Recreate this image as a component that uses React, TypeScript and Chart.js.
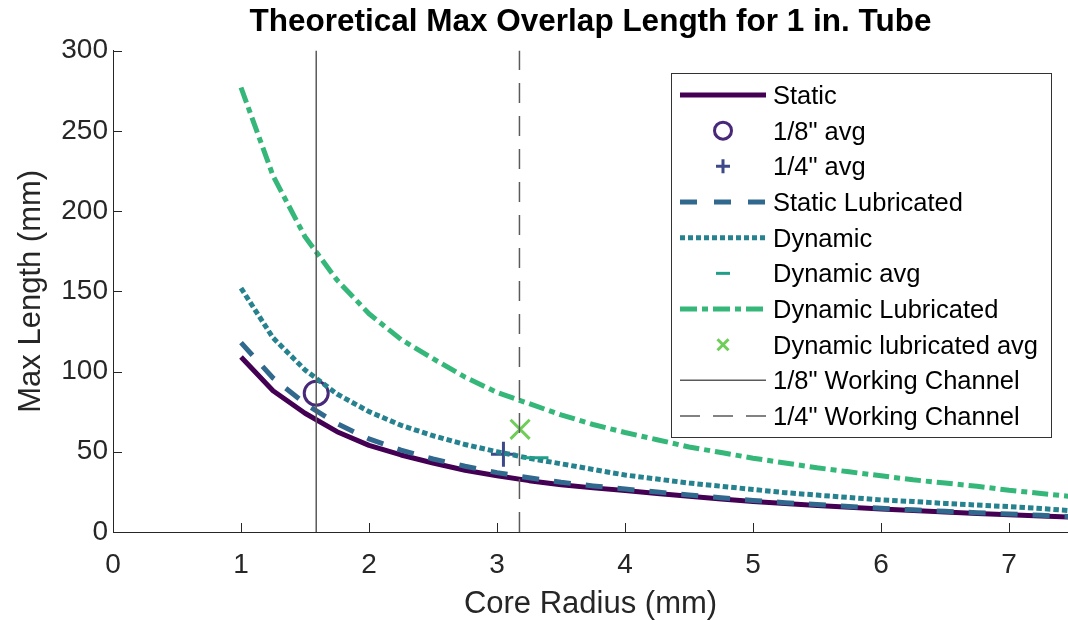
import React, { useEffect, useRef } from 'react';
import { Chart, registerables } from 'chart.js';

Chart.register(...registerables);

const FONT = "'Liberation Sans', Arial, Helvetica, sans-serif";

const chartTitle = 'Theoretical Max Overlap Length for 1 in. Tube';
const xAxisTitle = 'Core Radius (mm)';
const yAxisTitle = 'Max Length (mm)';

const radii = [1, 1.25, 1.5, 1.75, 2, 2.25, 2.5, 2.75, 3, 3.25, 3.5, 3.75, 4, 4.25, 4.5, 4.75, 5, 5.25, 5.5, 5.75, 6, 6.25, 6.5, 6.75, 7, 7.25, 7.5];
const staticLen = [109, 88, 74, 62.5, 54, 48, 43, 38.5, 35, 32, 29.5, 27.5, 25.8, 24, 22.3, 20.6, 19, 17.7, 16.5, 15.4, 14.3, 13.4, 12.5, 11.6, 10.8, 10, 9.2];
const staticLubLen = [118, 96, 80, 67.5, 58, 51, 45.5, 41, 37, 33.8, 31, 28.7, 26.8, 24.9, 23.1, 21.4, 19.7, 18.3, 17.1, 15.9, 14.8, 13.8, 12.9, 12, 11.2, 10.4, 9.6];
const dynamicLen = [152, 121, 101, 86, 75, 66.5, 60, 54.5, 50, 46, 42.5, 39, 35.5, 33, 30.5, 28.5, 26.5, 24.5, 23, 21.5, 20, 19, 17.8, 16.8, 15.8, 14.6, 13.2];
const dynamicLubLen = [277, 222, 184, 157, 136, 120, 108, 96.5, 87, 80, 73, 67, 62, 57.5, 53, 49.5, 46, 43, 40, 37.5, 35, 32.5, 30.5, 28.5, 26, 24, 22];

const avgEighthX = [1.5875];
const avgEighthY = [86.5];
const avgQuarterX = [3.05];
const avgQuarterY = [48.5];
const dynamicAvgX = [3.3];
const dynamicAvgY = [46.2];
const dynamicLubAvgX = [3.18];
const dynamicLubAvgY = [64];

const channelEighthX = 1.5875;
const channelQuarterX = 3.175;
const yRange = [0, 300];

const xMin = 0;
const xMax = 7.46;
const xStep = 1;
const yStep = 50;

const labels = [
  'Static',
  '1/8" avg',
  '1/4" avg',
  'Static Lubricated',
  'Dynamic',
  'Dynamic avg',
  'Dynamic Lubricated',
  'Dynamic lubricated avg',
  '1/8" Working Channel',
  '1/4" Working Channel',
];

const colors = ['#440154', '#482878', '#3e4989', '#31688e', '#26828e', '#1f9e89', '#35b779', '#6ece58', '#5a5a5a', '#5a5a5a'];

const pts = (xs: number[], ys: number[]) => xs.map((x, i) => ({ x, y: ys[i] }));

const inwardTicks = {
  id: 'inwardTicks',
  afterDraw(chart: any) {
    const { ctx, chartArea, scales } = chart;
    ctx.save();
    ctx.strokeStyle = '#262626';
    ctx.lineWidth = 1;
    ctx.setLineDash([]);
    scales.x.ticks.forEach((t: any) => {
      const px = Math.round(scales.x.getPixelForValue(t.value)) + 0.5;
      ctx.beginPath();
      ctx.moveTo(px, chartArea.bottom);
      ctx.lineTo(px, chartArea.bottom - 9);
      ctx.stroke();
    });
    scales.y.ticks.forEach((t: any) => {
      const py = Math.round(scales.y.getPixelForValue(t.value)) + 0.5;
      ctx.beginPath();
      ctx.moveTo(chartArea.left, py);
      ctx.lineTo(chartArea.left + 9, py);
      ctx.stroke();
    });
    ctx.restore();
  },
};

function drawMarker(ctx: CanvasRenderingContext2D, style: string, x: number, y: number, r: number) {
  ctx.beginPath();
  if (style === 'circle') {
    ctx.arc(x, y, r, 0, Math.PI * 2);
  } else if (style === 'cross') {
    ctx.moveTo(x - r, y);
    ctx.lineTo(x + r, y);
    ctx.moveTo(x, y - r);
    ctx.lineTo(x, y + r);
  } else if (style === 'crossRot') {
    ctx.moveTo(x - r, y - r);
    ctx.lineTo(x + r, y + r);
    ctx.moveTo(x - r, y + r);
    ctx.lineTo(x + r, y - r);
  } else if (style === 'line') {
    ctx.moveTo(x - r, y);
    ctx.lineTo(x + r, y);
  }
  ctx.stroke();
}

const boxLegend = {
  id: 'boxLegend',
  afterDraw(chart: any) {
    const { ctx } = chart;
    const left = 671;
    const top = 73;
    const right = 1051;
    const bottom = 437;
    ctx.save();
    ctx.fillStyle = '#ffffff';
    ctx.fillRect(left, top, right - left, bottom - top);
    ctx.strokeStyle = '#333333';
    ctx.lineWidth = 1;
    ctx.setLineDash([]);
    ctx.strokeRect(left + 0.5, top + 0.5, right - left, bottom - top);
    const legendMarkerSize: Record<string, number> = { circle: 8.5, cross: 7, line: 7, crossRot: 5.5 };
    chart.data.datasets.forEach((ds: any, i: number) => {
      const y = 95 + i * 35.67;
      ctx.strokeStyle = ds.borderColor;
      if (ds.showLine === false) {
        ctx.lineWidth = 3;
        ctx.setLineDash([]);
        drawMarker(ctx, ds.pointStyle, 723, y, legendMarkerSize[ds.pointStyle]);
      } else {
        ctx.lineWidth = ds.borderWidth;
        ctx.setLineDash(ds.legendDash || ds.borderDash || []);
        ctx.lineCap = 'butt';
        ctx.beginPath();
        ctx.moveTo(680, y);
        ctx.lineTo(766, y);
        ctx.stroke();
      }
      ctx.setLineDash([]);
      ctx.fillStyle = '#000000';
      ctx.font = `25.5px ${FONT}`;
      ctx.textAlign = 'left';
      ctx.textBaseline = 'middle';
      ctx.fillText(ds.label, 773, y + 2);
    });
    ctx.restore();
  },
};

export default function App() {
  const canvasRef = useRef<HTMLCanvasElement | null>(null);

  useEffect(() => {
    document.body.style.margin = '0';
    const canvas = canvasRef.current;
    if (!canvas) return;

    const lineDs = (i: number, ys: number[], dash: number[], legendDash?: number[]) => ({
      type: 'line',
      label: labels[i],
      data: pts(radii, ys),
      borderColor: colors[i],
      backgroundColor: colors[i],
      borderWidth: 5,
      borderDash: dash,
      legendDash,
      borderCapStyle: 'butt',
      borderJoinStyle: 'round',
      pointRadius: 0,
      tension: 0,
      fill: false,
      order: 20 - i,
    });
    const markerDs = (i: number, xs: number[], ys: number[], style: string, r: number) => ({
      type: 'line',
      label: labels[i],
      data: pts(xs, ys),
      showLine: false,
      borderColor: colors[i],
      backgroundColor: 'rgba(0,0,0,0)',
      pointStyle: style,
      pointRadius: r,
      pointBorderWidth: 3,
      pointBorderColor: colors[i],
      pointBackgroundColor: 'rgba(0,0,0,0)',
      order: 20 - i,
    });
    const vlineDs = (i: number, x: number, dash: number[]) => ({
      type: 'line',
      label: labels[i],
      data: [
        { x, y: yRange[0] },
        { x, y: yRange[1] },
      ],
      borderColor: colors[i],
      borderWidth: 1.5,
      borderDash: dash,
      pointRadius: 0,
      fill: false,
      order: 20 - i,
    });

    const chart = new Chart(canvas, {
      type: 'line',
      data: {
        datasets: [
          lineDs(0, staticLen, []),
          markerDs(1, avgEighthX, avgEighthY, 'circle', 12),
          markerDs(2, avgQuarterX, avgQuarterY, 'cross', 12.5),
          lineDs(3, staticLubLen, [17, 15], [17, 17]),
          lineDs(4, dynamicLen, [5.5, 3], [5, 3]),
          markerDs(5, dynamicAvgX, dynamicAvgY, 'line', 13),
          lineDs(6, dynamicLubLen, [16, 5, 6, 5], [17, 5, 6, 5]),
          markerDs(7, dynamicLubAvgX, dynamicLubAvgY, 'crossRot', 13.5),
          vlineDs(8, channelEighthX, []),
          vlineDs(9, channelQuarterX, [20, 13]),
        ] as any,
      },
      options: {
        responsive: false,
        animation: false,
        events: [],
        layout: { autoPadding: false, padding: { left: 0, right: 0, top: 0, bottom: 0 } },
        plugins: {
          legend: { display: false },
          tooltip: { enabled: false },
          title: {
            display: true,
            text: chartTitle,
            fullSize: false,
            color: '#000000',
            font: { family: FONT, size: 31.5, weight: 'bold' },
            padding: { top: 3.4, bottom: 9.4 },
          },
        },
        scales: {
          x: {
            type: 'linear',
            min: xMin,
            max: xMax,
            ticks: {
              stepSize: xStep,
              includeBounds: false,
              autoSkip: false,
              maxRotation: 0,
              color: '#262626',
              font: { family: FONT, size: 28 },
              padding: 16,
            },
            grid: { display: true, drawOnChartArea: false, drawTicks: false },
            border: { display: true, color: '#262626', width: 1 },
            title: {
              display: true,
              text: xAxisTitle,
              color: '#262626',
              font: { family: FONT, size: 31, lineHeight: 1.0 },
              padding: { top: 0, bottom: 0 },
            },
            afterFit(scale: any) {
              scale.height = 88;
              scale.paddingLeft = 0;
              scale.paddingRight = 0;
            },
          },
          y: {
            type: 'linear',
            min: yRange[0],
            max: yRange[1],
            ticks: {
              stepSize: yStep,
              color: '#262626',
              font: { family: FONT, size: 28 },
              padding: 5,
            },
            grid: { display: true, drawOnChartArea: false, drawTicks: false },
            border: { display: true, color: '#262626', width: 1 },
            title: {
              display: true,
              text: yAxisTitle,
              color: '#262626',
              font: { family: FONT, size: 31 },
              padding: { top: 13, bottom: 0 },
            },
            afterFit(scale: any) {
              scale.width = 113;
              scale.paddingTop = 0;
              scale.paddingBottom = 0;
            },
          },
        },
      } as any,
      plugins: [inwardTicks, boxLegend],
    });

    return () => chart.destroy();
  }, []);

  return (
    <div style={{ width: 1068, height: 620 }}>
      <canvas ref={canvasRef} width={1068} height={620} style={{ display: 'block' }} />
    </div>
  );
}
